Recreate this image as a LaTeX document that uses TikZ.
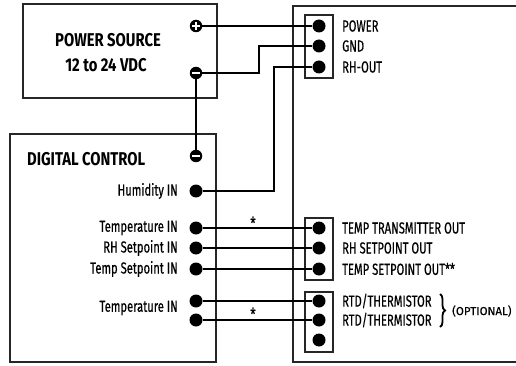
\documentclass[tikz,border=0pt]{standalone}
\usepackage{fontspec}
\setmainfont{Fira Sans}[FakeStretch=0.7, FakeBold=0.5]
\newfontfamily\headfont{Fira Sans}[FakeStretch=0.8]
\newfontfamily\optfont{Fira Sans}[FakeBold=0.4]
\usetikzlibrary{decorations.pathreplacing}
\begin{document}
\begin{tikzpicture}[x=1pt,y=-1pt,
  boxst/.style={draw=black!85, line width=1.3pt, inner sep=0pt},
  wire/.style={line width=1.8pt},
  term/.style={circle, fill=black, inner sep=0pt, minimum size=13pt},
  pmterm/.style={circle, fill=black, inner sep=0pt, minimum size=12.5pt},
  plusterm/.style={pmterm, path picture={
     \draw[white, line width=1.8pt] ([xshift=-3.6pt]path picture bounding box.center) -- ([xshift=3.6pt]path picture bounding box.center);
     \draw[white, line width=1.8pt] ([yshift=-3.6pt]path picture bounding box.center) -- ([yshift=3.6pt]path picture bounding box.center);}},
  minusterm/.style={pmterm, path picture={
     \draw[white, line width=1.8pt] ([xshift=-3.8pt]path picture bounding box.center) -- ([xshift=3.8pt]path picture bounding box.center);}},
  lbl/.style={font=\fontsize{16}{17}\selectfont, inner sep=0pt},
  head/.style={font=\headfont\bfseries\fontsize{18.5}{20}\selectfont, inner sep=0pt},
  strip/.style={draw=black!85, line width=1.1pt, inner sep=0pt, minimum width=28pt},
]
\useasboundingbox (0,0) rectangle (516,366);

% boxes
\node[boxst, minimum width=194pt, minimum height=94pt] (ps) at (120,51) {};
\node[boxst, minimum width=206pt, minimum height=228pt] (dc) at (113,248) {};
\draw[draw=black!85, line width=1.3pt] (516,6) -- (293,6) -- (293,362) -- (516,362);

% terminal strips
\node[strip, minimum height=63pt] (s1) at (319,46.5) {};
\node[strip, minimum height=62pt] (s2) at (319,249) {};
\node[strip, minimum height=60pt] (s3) at (319,322) {};

% power source
\node[head] (pstitle) at (108,40) {POWER SOURCE};
\node[head] (psvolt) at (106,65) {12 to 24 VDC};
\node[plusterm] (psplus) at (196,26) {};
\node[minusterm] (psminus) at (196,73) {};

% digital control
\node[head, anchor=west] (dctitle) at (27,159) {DIGITAL CONTROL};
\node[minusterm] (dcminus) at (196,156) {};
\node[term] (hum) at (196,191) {};
\node[term] (tin) at (196,228) {};
\node[term] (rhin) at (196,248) {};
\node[term] (tsin) at (196,269) {};
\node[term] (tin2a) at (196,301) {};
\node[term] (tin2b) at (196,320) {};
\node[lbl, anchor=east] (lhum) at (178,191) {Humidity IN};
\node[lbl, anchor=east] (ltin) at (178,228) {Temperature IN};
\node[lbl, anchor=east] (lrhin) at (178,248) {RH Setpoint IN};
\node[lbl, anchor=east] (ltsin) at (178,269) {Temp Setpoint IN};
\node[lbl, anchor=east] (ltin2) at (178,308) {Temperature IN};

% device terminals
\node[term] (pwr) at (319,26) {};
\node[term] (gnd) at (319,46) {};
\node[term] (rhout) at (319,67) {};
\node[term] (ttout) at (319,228) {};
\node[term] (rhsp) at (319,248) {};
\node[term] (tsp) at (319,269) {};
\node[term] (rtda) at (319,301) {};
\node[term] (rtdb) at (319,320) {};
\node[term] (spare) at (319,340) {};
\node[lbl, anchor=west] (lpwr) at (342,26) {POWER};
\node[lbl, anchor=west] (lgnd) at (342,46) {GND};
\node[lbl, anchor=west] (lrhout) at (342,67) {RH-OUT};
\node[lbl, anchor=west] (lttout) at (342,228) {TEMP TRANSMITTER OUT};
\node[lbl, anchor=west] (lrhsp) at (342,248) {RH SETPOINT OUT};
\node[lbl, anchor=west] (ltsp) at (342,269) {TEMP SETPOINT OUT**};
\node[lbl, anchor=west] (lrtda) at (342,301) {RTD/THERMISTOR};
\node[lbl, anchor=west] (lrtdb) at (342,320) {RTD/THERMISTOR};
\draw[decorate, decoration={brace, amplitude=5pt}, line width=1.8pt] (440,294) coordinate (bt) -- (440,327) coordinate (bb);
\node[font=\optfont\fontsize{11.5}{12}\selectfont, inner sep=0pt, anchor=west] (opt) at (452,311) {(OPTIONAL)};

% asterisks
\node[font=\fontsize{17}{17}\selectfont, inner sep=0pt] (ast1) at (253,223) {*};
\node[font=\fontsize{17}{17}\selectfont, inner sep=0pt] (ast2) at (253,314) {*};

% wires
\draw[wire] (psplus) -- (pwr);
\draw[wire] (psminus.east) -- (259,73) |- (gnd.west);
\draw[wire] (psminus) -- (dcminus);
\draw[wire] (rhout.west) -- (274,67) |- (hum.east);
\draw[wire] (tin) -- (ttout);
\draw[wire] (rhin) -- (rhsp);
\draw[wire] (tsin) -- (tsp);
\draw[wire] (tin2a) -- (rtda);
\draw[wire] (tin2b) -- (rtdb);
\end{tikzpicture}
\end{document}
